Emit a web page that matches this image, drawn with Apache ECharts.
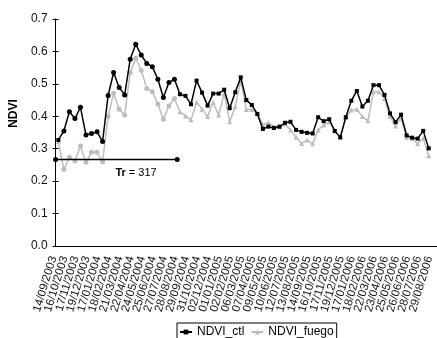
<!DOCTYPE html>
<html><head><meta charset="utf-8">
<script src="https://cdn.jsdelivr.net/npm/echarts@6/dist/echarts.min.js"></script>
<style>html,body{margin:0;padding:0;background:#fff}#c{width:437px;height:338px}</style>
</head><body><div id="c"></div>
<script>
const dates = [
 '14/09/2003','30/09/2003','16/10/2003','01/11/2003','17/11/2003','03/12/2003','19/12/2003','01/01/2004',
 '17/01/2004','02/02/2004','18/02/2004','05/03/2004','21/03/2004','06/04/2004','22/04/2004','08/05/2004',
 '24/05/2004','09/06/2004','25/06/2004','11/07/2004','27/07/2004','12/08/2004','28/08/2004','13/09/2004',
 '29/09/2004','15/10/2004','31/10/2004','16/11/2004','02/12/2004','18/12/2004','01/01/2005','17/01/2005',
 '02/02/2005','18/02/2005','06/03/2005','22/03/2005','07/04/2005','23/04/2005','09/05/2005','25/05/2005',
 '10/06/2005','26/06/2005','12/07/2005','28/07/2005','13/08/2005','29/08/2005','14/09/2005','30/09/2005',
 '16/10/2005','01/11/2005','17/11/2005','03/12/2005','19/12/2005','01/01/2006','17/01/2006','02/02/2006',
 '18/02/2006','06/03/2006','22/03/2006','07/04/2006','23/04/2006','09/05/2006','25/05/2006','10/06/2006',
 '26/06/2006','12/07/2006','28/07/2006','13/08/2006','29/08/2006'
];
const ndviCtl = [
 0.327,0.355,0.414,0.393,0.428,0.342,0.347,0.352,0.322,0.464,
 0.535,0.489,0.466,0.576,0.622,0.589,0.563,0.553,0.514,0.458,
 0.504,0.514,0.468,0.463,0.437,0.510,0.473,0.433,0.470,0.470,
 0.482,0.425,0.474,0.520,0.450,0.435,0.407,0.361,0.368,0.364,
 0.368,0.380,0.383,0.358,0.352,0.349,0.347,0.397,0.385,0.391,
 0.355,0.335,0.397,0.448,0.478,0.430,0.448,0.496,0.496,0.466,
 0.409,0.382,0.405,0.341,0.334,0.331,0.355,0.301
];
const ndviFuego = [
 0.322,0.236,0.273,0.262,0.308,0.258,0.289,0.289,0.260,0.399,
 0.471,0.422,0.404,0.534,0.579,0.541,0.486,0.476,0.438,0.391,
 0.432,0.455,0.414,0.401,0.389,0.443,0.422,0.399,0.443,0.404,
 0.470,0.383,0.430,0.510,0.421,0.421,0.409,0.373,0.381,0.368,
 0.368,0.376,0.358,0.335,0.316,0.327,0.315,0.358,0.373,0.383,
 0.355,0.335,0.397,0.419,0.422,0.399,0.386,0.476,0.476,0.455,
 0.399,0.370,0.394,0.335,0.332,0.315,0.332,0.278
];
const yMin = 0, yMax = 0.7, yStep = 0.1;
const trValue = 0.267;      // NDVI level of the Tr line
const trFrom = 0, trTo = 22; // period covered (in composites)
const trName = 'Tr', trDays = 317;

const FONT = 'Liberation Sans, Arial, sans-serif';
const circleFirst = 1, circleLast = 21;
function items(vals, size) {
  return vals.map((v, i) => (i >= circleFirst && i <= circleLast)
    ? { value: v, symbol: 'circle', symbolSize: size } : v);
}

const chart = echarts.init(document.getElementById('c'), null, { renderer: 'canvas' });
chart.setOption({
  animation: false,
  backgroundColor: '#fff',
  grid: { left: 46, top: 19, width: 395, height: 227 },
  legend: {
    data: ['NDVI_ctl', 'NDVI_fuego'],
    left: 177, top: 323, itemWidth: 12, itemHeight: 6, itemGap: 6,
    padding: [3, 3, 3, 2], borderColor: '#000', borderWidth: 1,
    textStyle: { fontFamily: FONT, fontSize: 12, color: '#000' }
  },
  xAxis: [
    { type: 'category', data: dates, boundaryGap: true, position: 'bottom',
      axisLine: { lineStyle: { color: '#000', width: 1 } },
      axisTick: { interval: 1, length: 3, lineStyle: { color: '#000' } },
      axisLabel: { interval: 0, formatter: (v, i) => (i % 2 === 0 ? v : ''),
        rotate: 73, margin: 12, fontFamily: FONT, fontSize: 11.5, color: '#111',
        lineHeight: 10, verticalAlign: 'bottom', hideOverlap: false },
      splitLine: { show: false } },
    { type: 'category', data: dates, boundaryGap: true, position: 'bottom',
      axisLine: { show: false },
      axisTick: { inside: true, interval: 1, length: 3, lineStyle: { color: '#000' } },
      axisLabel: { show: false }, splitLine: { show: false } },
    { type: 'value', min: 0, max: dates.length, show: false }
  ],
  yAxis: [
    { type: 'value', min: yMin, max: yMax, interval: yStep, position: 'left',
      axisLine: { show: true, lineStyle: { color: '#000', width: 1 } },
      axisTick: { show: true, length: 3, lineStyle: { color: '#000' } },
      axisLabel: { formatter: v => v.toFixed(1), margin: 8, fontFamily: FONT, fontSize: 12, color: '#111',
        showMinLabel: true, showMaxLabel: true },
      splitLine: { show: false },
      name: 'NDVI', nameLocation: 'middle', nameGap: 26, nameRotate: 90,
      nameTextStyle: { fontFamily: FONT, fontWeight: 'bold', fontSize: 12, color: '#000', padding: [0, 0, 0, 38] } },
    { type: 'value', min: yMin, max: yMax, interval: yStep, position: 'left',
      axisLine: { show: false },
      axisTick: { show: true, inside: true, length: 3, lineStyle: { color: '#000' } },
      axisLabel: { show: false }, splitLine: { show: false } }
  ],
  series: [
    { name: 'NDVI_fuego', type: 'line', data: items(ndviFuego, 5),
      symbol: 'triangle', symbolSize: 5, showAllSymbol: true,
      color: '#bdbdbd', lineStyle: { width: 1.5, color: '#bdbdbd' }, itemStyle: { color: '#bdbdbd' },
      emphasis: { disabled: true }, z: 2 },
    { name: 'NDVI_ctl', type: 'line', data: items(ndviCtl, 5),
      symbol: 'rect', symbolSize: 4, showAllSymbol: true,
      color: '#000', lineStyle: { width: 1.5, color: '#000' }, itemStyle: { color: '#000' },
      emphasis: { disabled: true }, z: 3 },
    { name: 'Tr', type: 'line', xAxisIndex: 2, yAxisIndex: 0,
      symbol: 'circle', symbolSize: 5, showAllSymbol: true,
      lineStyle: { width: 1.5, color: '#000' }, itemStyle: { color: '#000' },
      emphasis: { disabled: true }, z: 4,
      data: [
        { value: [trFrom, trValue] },
        { value: [trTo, trValue],
          label: { show: true, position: 'left', distance: 18, offset: [0, 14],
            formatter: '{b|' + trName + '} = ' + trDays,
            fontFamily: FONT, fontSize: 11, color: '#000',
            rich: { b: { fontFamily: FONT, fontSize: 11, fontWeight: 'bold', color: '#000' } } } }
      ] }
  ]
});
</script></body></html>
